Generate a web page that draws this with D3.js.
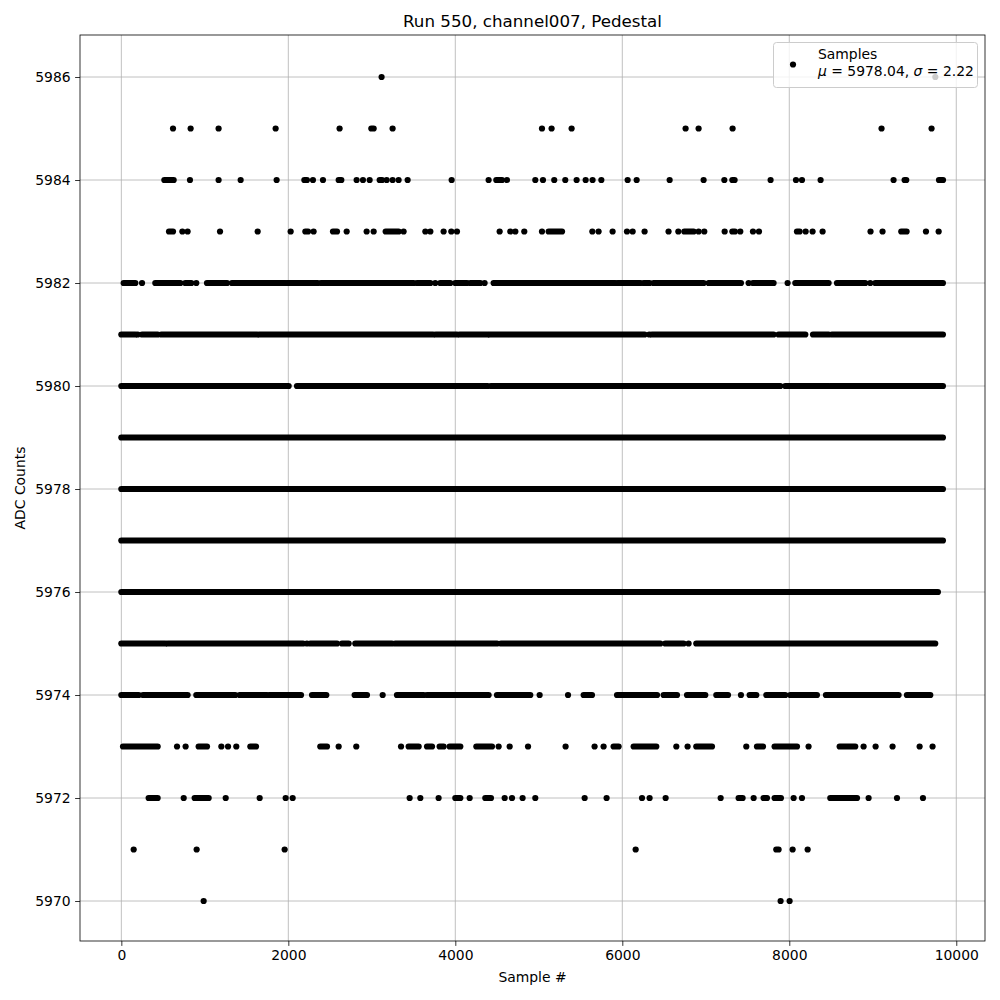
<!DOCTYPE html>
<html><head><meta charset="utf-8">
<script src="https://cdn.jsdelivr.net/npm/d3@7"></script>
<style>body{margin:0;background:#fff} text{font-family:"DejaVu Sans",sans-serif;fill:#000}</style>
</head><body>
<svg id="c" width="1000" height="1000"></svg>
<script>
// ---------------- data ----------------
const chartTitle = "Run 550, channel007, Pedestal";
const xLabel = "Sample #";
const yLabel = "ADC Counts";
const xTicks = [0, 2000, 4000, 6000, 8000, 10000];
const yTicks = [5970, 5972, 5974, 5976, 5978, 5980, 5982, 5984, 5986];
const legendName = "Samples";
const legendMu = "5978.04";
const legendSigma = "2.22";

// Sample indices per ADC level. A number is one sample; a pair [a, b] is a
// stretch of samples a..b in which the dots of that level merge into a band.
const samples5986 = [3117, 9749];
const samples5985 = [619, 830, 1165, 1848, 2614, [2994, 3022], 3249, 5038, 5153, 5393, 6758, 6914, 7321, 9105, 9704];
const samples5984 = [[515, 627], 822, 1165, 1429, 1860, [2192, 2223], 2295, 2415, [2603, 2635], 2818, 2894, 2974, [3094, 3122], 3178, 3249, 3321, 3429, 3956, 4399, [4491, 4559], 4619,
  4958, 5050, 5185, 5317, 5453, 5561, 5644, 5749, 6064, 6172, 6567, 6974, 7222, [7318, 7345], 7776, 8080, 8152, 8375, 9249, [9381, 9401], [9793, 9841]];
const samples5983 = [[571, 619], 731, 794, 1182, 1633, 2028, [2204, 2236], 2303, [2535, 2583], 2699, 2938, 3022, [3166, 3321], 3381, 3641, 3701, 3860, 3952, 4020, 4531, 4659, 4719, 4826,
  5038, [5118, 5278], 5641, 5716, 5884, 6056, 6124, 6267, 6554, 6671, [6743, 6854], 6914, 6982, 7226, [7318, 7349], 7413, 7565, 7637, [8092, 8124], 8196, 8279, 8399, 8973, 9117, [9341, 9405], 9637, 9789];
const samples5982 = [[28, 168], 248, [407, 707], [766, 838], 898, [1026, 1266], [1325, 1964], [1984, 2351], [2391, 3501], [3541, 3701], 3760, [3820, 3940], [4000, 4140], [4180, 4299], 4351,
  [4459, 5916], [5944, 6216], [6256, 6327], [6375, 6974], [7034, 7421], 7513, [7565, 7812], 7980, [8072, 8471], [8571, 8910], 8970, [9030, 9840]];
const samples5981 = [[0, 168], 196, [248, 435], [479, 1625], [1653, 3733], [3765, 4020], [4052, 4387], [4411, 6267], 6323, [6355, 7812], [7872, 8192], [8284, 8471], [8511, 9840]];
const samples5980 = [[0, 2004], [2104, 4387], [4427, 7892], [7952, 8471], [8491, 9840]];
const samples5979 = [[0, 9840]];
const samples5978 = [[0, 9840]];
const samples5977 = [[0, 9840]];
const samples5976 = [[0, 9780]];
const samples5975 = [[0, 527], [555, 2176], 2223, [2264, 2583], [2643, 2723], [2802, 3241], [3281, 4499], [4547, 6455], [6515, 6734], 6794, [6886, 9748]];
const samples5974 = [[0, 208], [260, 794], [898, 1365], [1417, 1745], [1776, 2152], [2284, 2455], [2794, 2942], 3130, [3301, 3621], [3661, 4399], [4499, 4898], 5010, 5350,
  [5537, 5637], [5937, 6416], [6495, 6655], [6775, 6994], [7126, 7266], 7421, [7525, 7605], [7725, 7952], [8012, 8331], [8439, 9309], [9409, 9689]];
const samples5973 = [[20, 435], 667, 770, [926, 1026], 1198, 1278, 1377, [1545, 1613], [2383, 2463], 2603, 2814, 3350, [3441, 3561], [3661, 3721], [3812, 3860], [3932, 4060], [4252, 4439], 4519, 4651, 4871,
  5321, 5668, 5776, [5896, 5956], [6136, 6407], 6647, 6782, [6886, 7074], 7485, [7613, 7685], [7824, 8092], 8231, [8603, 8790], 8890, 9034, 9237, 9561, 9716];
const samples5972 = [[327, 435], 747, [878, 1046], 1250, 1657, 1968, 2052, 3453, 3581, 3800, [4000, 4060], 4172, [4359, 4427], 4591, 4679, 4806,
  4958, 5549, 5812, 6236, 6327, 6519, 7178, [7393, 7441], 7573, [7692, 7733], [7824, 7900], 8052, 8152, [8491, 8811], 8950, 9290, 9601];
const samples5971 = [148, 902, 1956, 6160, [7844, 7872], 8040, 8220];
const samples5970 = [986, 7896, 8004];

const levels = [5970, 5971, 5972, 5973, 5974, 5975, 5976, 5977, 5978, 5979, 5980, 5981, 5982, 5983, 5984, 5985, 5986];
const samplesByLevel = [samples5970, samples5971, samples5972, samples5973, samples5974, samples5975, samples5976, samples5977, samples5978,
  samples5979, samples5980, samples5981, samples5982, samples5983, samples5984, samples5985, samples5986];

// ---------------- drawing ----------------
const L = 80, R = 985, T = 35, B = 941;
const svg = d3.select("#c");
const x = d3.scaleLinear().domain([-495, 10344]).range([L, R]);
const y = d3.scaleLinear().domain([5969.2, 5986.8]).range([942.2, 35.8]);

// grid
const g = svg.append("g");
g.selectAll(".gx").data(xTicks).join("line")
  .attr("x1", d => x(d)).attr("x2", d => x(d)).attr("y1", T).attr("y2", B)
  .attr("stroke", "#b0b0b0").attr("stroke-width", 0.8);
g.selectAll(".gy").data(yTicks).join("line")
  .attr("x1", L).attr("x2", R).attr("y1", d => y(d)).attr("y2", d => y(d))
  .attr("stroke", "#b0b0b0").attr("stroke-width", 0.8);

// points
const r = 3.1;
const items = [];
levels.forEach((lv, i) => samplesByLevel[i].forEach(s => {
  if (Array.isArray(s)) items.push({lv, a: s[0], b: s[1]});
  else items.push({lv, a: s, b: s});
}));
const pg = svg.append("g");
pg.selectAll("circle").data(items.filter(d => d.a === d.b)).join("circle")
  .attr("cx", d => x(d.a)).attr("cy", d => y(d.lv)).attr("r", r).attr("fill", "#000");
pg.selectAll("line").data(items.filter(d => d.a !== d.b)).join("line")
  .attr("x1", d => x(d.a)).attr("x2", d => x(d.b)).attr("y1", d => y(d.lv)).attr("y2", d => y(d.lv))
  .attr("stroke", "#000").attr("stroke-width", 2 * r).attr("stroke-linecap", "round");

// axes
const xAxis = svg.append("g").attr("transform", `translate(0,${B})`)
  .call(d3.axisBottom(x).tickValues(xTicks).tickFormat(d3.format("d")).tickSize(4.9).tickPadding(4.5));
const yAxis = svg.append("g").attr("transform", `translate(${L},0)`)
  .call(d3.axisLeft(y).tickValues(yTicks).tickFormat(d3.format("d")).tickSize(4.9).tickPadding(4.5));
[xAxis, yAxis].forEach(a => {
  a.select(".domain").remove();
  a.selectAll(".tick line").attr("stroke", "#000").attr("stroke-width", 0.8);
  a.selectAll(".tick text").attr("font-size", 13.9).attr("font-family", "DejaVu Sans").attr("fill", "#000");
});
// spines
svg.append("rect").attr("x", L).attr("y", T).attr("width", R - L).attr("height", B - T)
  .attr("fill", "none").attr("stroke", "#000").attr("stroke-width", 0.8);

// labels
svg.append("text").attr("x", (L + R) / 2).attr("y", 27).attr("text-anchor", "middle")
  .attr("font-size", 16.7).text(chartTitle);
svg.append("text").attr("x", (L + R) / 2).attr("y", 982).attr("text-anchor", "middle")
  .attr("font-size", 13.9).text(xLabel);
svg.append("text").attr("transform", `translate(25,${(T + B) / 2}) rotate(-90)`).attr("text-anchor", "middle")
  .attr("font-size", 13.9).text(yLabel);

// legend
const lg = svg.append("g");
lg.append("rect").attr("x", 773.5).attr("y", 42.5).attr("width", 204).attr("height", 45).attr("rx", 3)
  .attr("fill", "#fff").attr("fill-opacity", 0.8).attr("stroke", "#cccccc").attr("stroke-width", 1);
lg.append("circle").attr("cx", 793).attr("cy", 64.5).attr("r", r).attr("fill", "#000");
lg.append("text").attr("x", 818).attr("y", 59).attr("font-size", 13.9).text(legendName);
const t2 = lg.append("text").attr("x", 818).attr("y", 76).attr("font-size", 13.9);
t2.append("tspan").attr("font-style", "italic").text("μ");
t2.append("tspan").text(` = ${legendMu}, `);
t2.append("tspan").attr("font-style", "italic").text("σ");
t2.append("tspan").text(` = ${legendSigma}`);
</script>
</body></html>
